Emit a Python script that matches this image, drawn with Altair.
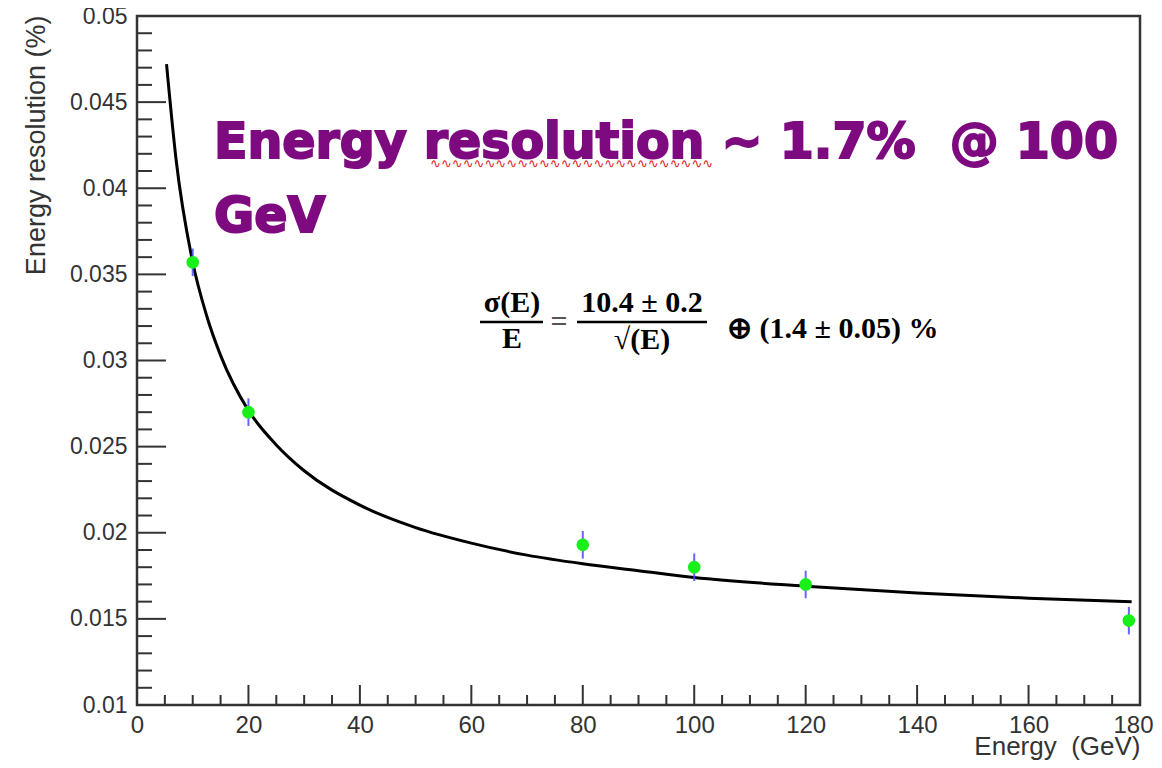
import altair as alt
import pandas as pd

# measured points
energy = [10, 20, 80, 100, 120, 178]
resolution = [0.0357, 0.0270, 0.0193, 0.0180, 0.0170, 0.0149]
res_err = [0.0008, 0.0008, 0.0008, 0.0008, 0.0008, 0.0008]

# fitted curve
curve_e = [5.3, 7, 10, 12.5, 15, 20, 25, 30, 40, 50, 60, 70, 80, 90, 100, 120, 140, 160, 178.5]
curve_r = [0.0472, 0.0417, 0.0357, 0.0326, 0.0303, 0.0271, 0.0251, 0.0236, 0.0216, 0.0203,
           0.0194, 0.0187, 0.0182, 0.0178, 0.0174, 0.0169, 0.0165, 0.0162, 0.0160]

x_major = [0, 20, 40, 60, 80, 100, 120, 140, 160, 180]
x_minor = [v for v in range(5, 180, 5) if v % 20 != 0]
y_major = [0.01, 0.015, 0.02, 0.025, 0.03, 0.035, 0.04, 0.045, 0.05]
y_minor = [round(0.01 + 0.001 * i, 3) for i in range(1, 40) if i % 5 != 0]

NB = "\u00a0"
W, H = 1003, 689
FONT = "Liberation Sans"
TXT = "#333333"
PURPLE = "#7e0a80"

pts = pd.DataFrame({"e": energy, "r": resolution,
                    "lo": [r - d for r, d in zip(resolution, res_err)],
                    "hi": [r + d for r, d in zip(resolution, res_err)]})
crv = pd.DataFrame({"e": curve_e, "r": curve_r})

xs = alt.Scale(domain=[0, 180], nice=False, zero=False)
ys = alt.Scale(domain=[0.01, 0.05], nice=False, zero=False)

xaxis = alt.Axis(values=x_major, format="d", ticks=False, domain=False, grid=False,
                 labelFont=FONT, labelFontSize=24, labelColor=TXT, labelPadding=8,
                 labelFlush=False,
                 labelOffset={"condition": {"test": "datum.value == 180", "value": -7}, "value": 0},
                 title="Energy" + NB + NB + "(GeV)", titleFont=FONT, titleFontSize=26,
                 titleFontWeight="normal", titleColor=TXT, titleAnchor="end", titleAlign="right",
                 titleX=W, titleY=49, titleBaseline="alphabetic")
yaxis = alt.Axis(values=y_major, format=".3~f", ticks=False, domain=False, grid=False,
                 labelFont=FONT, labelFontSize=23, labelColor=TXT, labelPadding=10,
                 labelFlush=False, title="Energy resolution (%)", titleFont=FONT, titleFontSize=27,
                 titleFontWeight="normal", titleColor=TXT, titleAngle=270, titleAlign="right",
                 titleAnchor="end", titleX=-93, titleY=-1, titleBaseline="alphabetic")

base_x = alt.X("e:Q", scale=xs, axis=xaxis)
base_y = alt.Y("r:Q", scale=ys, axis=yaxis)

curve = alt.Chart(crv).mark_line(color="black", strokeWidth=3, interpolate="monotone").encode(
    x=base_x, y=base_y)

errs = alt.Chart(pts).mark_rule(color="#4a4aff", strokeWidth=2, opacity=0.85).encode(
    x=alt.X("e:Q", scale=xs), y=alt.Y("lo:Q", scale=ys), y2="hi:Q")

dots = alt.Chart(pts).mark_point(filled=True, shape="circle", size=160, color="#19ef19",
                                 opacity=1).encode(
    x=alt.X("e:Q", scale=xs), y=alt.Y("r:Q", scale=ys))

def ticks_y(vals, length):
    return alt.Chart(pd.DataFrame({"v": vals})).mark_rule(color="#333333", strokeWidth=2).encode(
        y=alt.Y("v:Q", scale=ys), x=alt.value(0), x2=alt.value(length))

def ticks_x(vals, length):
    return alt.Chart(pd.DataFrame({"v": vals})).mark_rule(color="#333333", strokeWidth=2).encode(
        x=alt.X("v:Q", scale=xs), y=alt.value(H), y2=alt.value(H - length))

def label(text, x, y, size, font, weight="bold", color="black", align="left",
          baseline="alphabetic", stroke=None, sw=0):
    kw = dict(font=font, fontSize=size, fontWeight=weight, color=color, align=align,
              baseline=baseline)
    if stroke:
        kw.update(stroke=stroke, strokeWidth=sw)
    return alt.Chart(pd.DataFrame({"t": [text]})).mark_text(**kw).encode(
        text="t:N", x=alt.value(x), y=alt.value(y))

def bar(x1, x2, y):
    return alt.Chart(pd.DataFrame({"a": [0]})).mark_rule(color="black", strokeWidth=2.5).encode(
        x=alt.value(x1), x2=alt.value(x2), y=alt.value(y))

title1 = label("Energy resolution ~ 1.7%" + NB + NB + "@ 100", 77, 142, 49, "DejaVu Sans",
               color=PURPLE, stroke=PURPLE, sw=2)
title2 = label("GeV", 77, 216, 49, "DejaVu Sans", color=PURPLE, stroke=PURPLE, sw=2)
squiggle = label("∿" * 26, 293, 152, 13, "DejaVu Sans", weight="normal", color="#e02020")

SERIF = "Liberation Serif"
FS = 30
f1 = label("σ(E)", 375, 296, FS, SERIF, align="center")
f2 = label("E", 375, 332, FS, SERIF, align="center")
f3 = label("=", 422, 306, FS, SERIF, align="center", baseline="middle", color="#555555")
f4 = label("10.4 ± 0.2", 505, 296, FS, SERIF, align="center")
f5 = label("√(E)", 505, 333, FS, SERIF, align="center")
f6 = label("⊕ (1.4 ± 0.05) %", 590, 322, FS, SERIF)
b1 = bar(343, 406, 306)
b2 = bar(440, 570, 306)

chart = alt.layer(
    curve, ticks_y(y_major, 29), ticks_y(y_minor, 15), ticks_x(x_major, 20), ticks_x(x_minor, 10),
    errs, dots, title1, title2, squiggle, f1, f2, f3, f4, f5, f6, b1, b2
).properties(
    width=W, height=H,
    autosize=alt.AutoSizeParams(type="none"),
    padding={"left": 129, "top": 8, "right": 14, "bottom": 55},
    background="white",
).configure_view(stroke="#333333", strokeWidth=2.5)

chart.save("out.html", embed_options={"renderer": "svg", "actions": False})
